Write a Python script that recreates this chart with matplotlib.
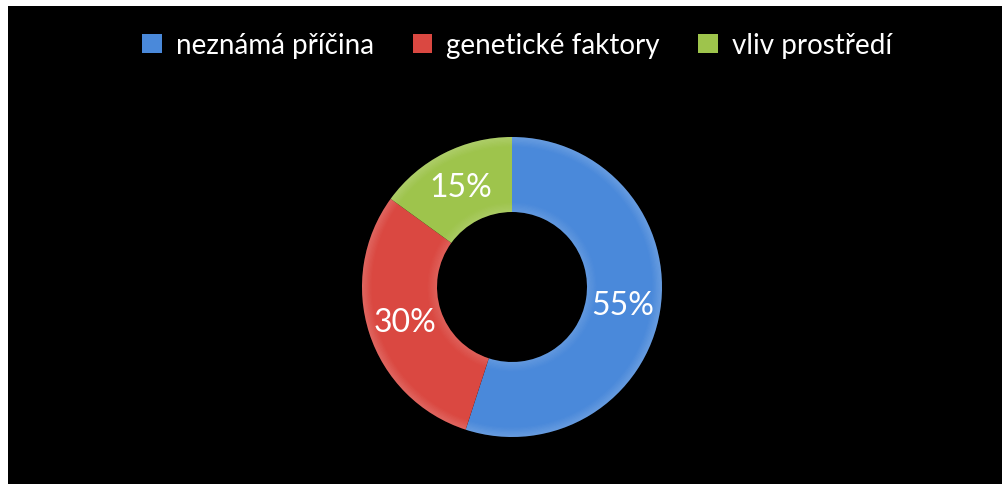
import matplotlib.pyplot as plt
from matplotlib.patches import Rectangle, Wedge

# Podíl příčin
labels = ['neznámá příčina', 'genetické faktory', 'vliv prostředí']
values = [55, 30, 15]
colors = ['#4A89DA', '#DA4841', '#9EC44C']

plt.rcParams['font.family'] = ['Lato', 'DejaVu Sans']

fig = plt.figure(figsize=(10.03, 4.85), dpi=100, facecolor='white')
# černé pozadí s bílým okrajem nahoře a vlevo
fig.patches.append(Rectangle((8 / 1003, 0), 1, 1 - 7 / 485, transform=fig.transFigure,
                             facecolor='black', edgecolor='none', zorder=-10))

ax = fig.add_axes([(512 - 150) / 1003, (485 - 288 - 150) / 485, 300 / 1003, 300 / 485])
ax.set_facecolor('none')
ax.set_zorder(2)

wedges, texts = ax.pie(values, colors=colors, startangle=90, counterclock=False,
                       radius=1.0, wedgeprops=dict(width=0.5, edgecolor='none'),
                       labels=[f'{v}%' for v in values], labeldistance=0.75,
                       textprops=dict(color='white', fontsize=23, ha='center', va='center',
                                      zorder=5))

# plynulé zesvětlení u vnějšího a vnitřního okraje (efekt zkosení)
steps = 8
start = 90
for v in values:
    end = start - v * 3.6
    for i in range(steps):
        a = 0.16 * (1 - i / steps)
        ax.add_patch(Wedge((0, 0), 1.0 - i * 0.008, end, start, width=0.008,
                           facecolor='white', alpha=a, edgecolor='none', zorder=3))
        ax.add_patch(Wedge((0, 0), 0.5 + (i + 1) * 0.008, end, start, width=0.008,
                           facecolor='white', alpha=a * 0.8, edgecolor='none', zorder=3))
    start = end

ax.set_xlim(-1, 1)
ax.set_ylim(-1, 1)
ax.set_aspect('equal')
ax.axis('off')

leg = fig.legend(wedges, labels, loc='center', bbox_to_anchor=(517 / 1003, 1 - 46 / 485),
                 ncol=3, frameon=False, fontsize=20, labelcolor='white',
                 handlelength=0.7, handleheight=0.7, handletextpad=0.5, columnspacing=1.4)
leg.set_zorder(3)

fig.savefig('out.png', dpi=100, facecolor=fig.get_facecolor())
